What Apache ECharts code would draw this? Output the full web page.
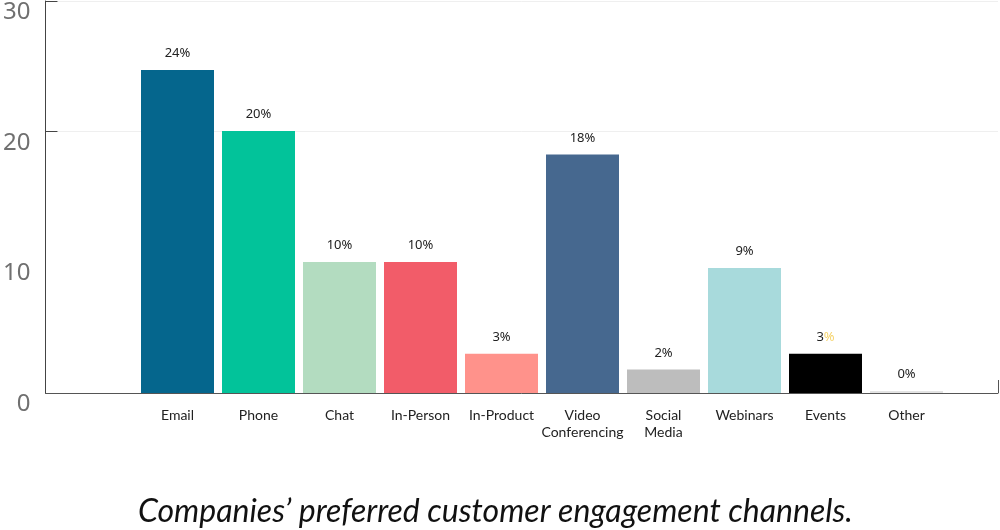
<!DOCTYPE html>
<html>
<head>
<meta charset="utf-8">
<script src="https://cdn.jsdelivr.net/npm/echarts@6/dist/echarts.min.js"></script>
<style>
html,body{margin:0;padding:0;background:#fff;}
#chart{width:1000px;height:530px;}
</style>
</head>
<body>
<div id="chart"></div>
<script>
const categories = ['Email','Phone','Chat','In-Person','In-Product','Video\nConferencing','Social\nMedia','Webinars','Events','Other'];
const values = [24.65, 20, 10, 10, 3.0, 18.2, 1.8, 9.55, 3.0, 0.15];
const pctLabels = ['24%','20%','10%','10%','3%','18%','2%','9%','3%','0%'];
const yTickLabels = [0, 10, 20, 30];
const yTickMarks = [20, 30];
const title = 'Companies\u2019 preferred customer engagement channels.';

const palette = ['#05668d','#02c39a','#b3dcc0','#f25c69','#ff928b','#46688f','#bdbdbd','#a8dadc','#000000','#e3e3e3'];

const chart = echarts.init(document.getElementById('chart'), null, {renderer:'canvas'});
chart.setOption({
  animation: false,
  title: {
    text: title,
    left: 133,
    top: 491,
    textStyle: {fontFamily: 'Lato', fontStyle: 'italic', fontWeight: 'normal', fontSize: 32, color: '#111'}
  },
  grid: [
    {left: 41, right: 2, top: 0, height: 393, containLabel: false},
    {left: 137, width: 810, top: 0, height: 393, containLabel: false}
  ],
  xAxis: [
    {
      gridIndex: 0, type: 'value', min: 0, max: 1,
      axisLine: {show: true, lineStyle: {color: '#555', width: 1}},
      axisTick: {show: true, inside: true, length: 13, customValues: [1], lineStyle: {color: '#555'}},
      axisLabel: {show: false},
      splitLine: {show: false}
    },
    {
      gridIndex: 1, type: 'category', data: categories,
      axisLine: {show: false}, axisTick: {show: false},
      axisLabel: {color: '#222', fontFamily: 'Lato', fontSize: 14, margin: 14, lineHeight: 17, interval: 0}
    }
  ],
  yAxis: [
    {
      gridIndex: 0, type: 'value', min: 0, max: 30, interval: 5,
      axisLine: {show: true, lineStyle: {color: '#444', width: 1}},
      axisTick: {show: true, inside: true, length: 12, customValues: yTickMarks, lineStyle: {color: '#444'}},
      axisLabel: {customValues: yTickLabels, color: '#707070', fontFamily: 'Noto Sans', fontSize: 24, margin: 15, verticalAlign: 'top', lineHeight: 22},
      splitLine: {show: true, lineStyle: {color: '#efefef', width: 1}}
    },
    {
      gridIndex: 1, type: 'value', min: 0, max: 30, show: false,
      splitLine: {show: false}
    }
  ],
  series: [{
    type: 'bar',
    xAxisIndex: 1, yAxisIndex: 1,
    barWidth: 73,
    data: values.map((v, i) => ({value: v, itemStyle: {color: palette[i]}})),
    label: {
      show: true, position: 'top', distance: 10,
      fontFamily: 'Noto Sans', fontSize: 13, color: '#222',
      formatter: p => p.name === 'Events' ? '{a|3}{b|%}' : pctLabels[p.dataIndex],
      rich: {
        a: {fontFamily: 'Noto Sans', fontSize: 13, color: '#222'},
        b: {fontFamily: 'Noto Sans', fontSize: 13, color: '#f5d36a'}
      }
    }
  }]
});
</script>
</body>
</html>
